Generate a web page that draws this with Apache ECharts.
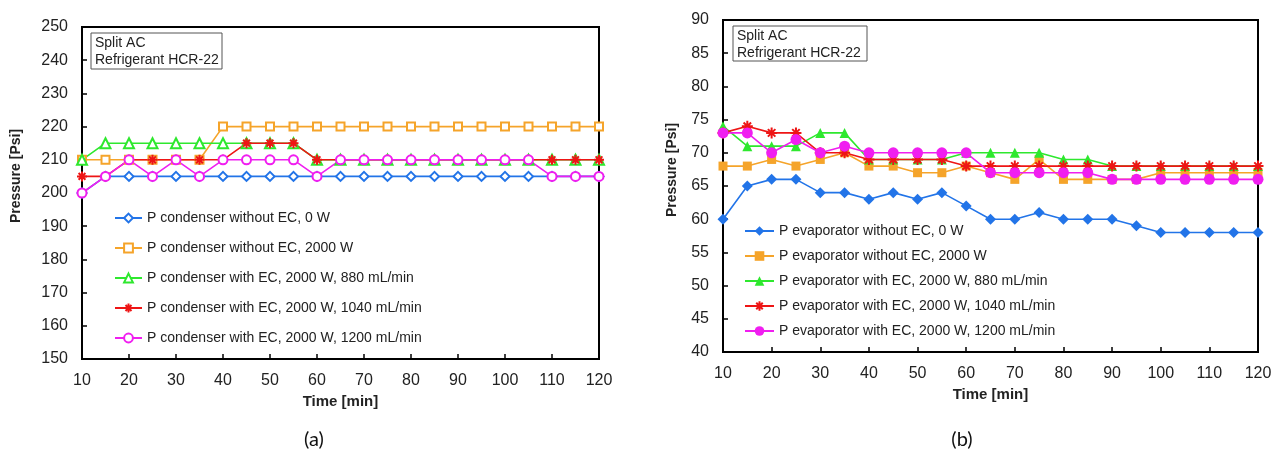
<!DOCTYPE html>
<html><head><meta charset="utf-8">
<script src="https://cdn.jsdelivr.net/npm/echarts@6/dist/echarts.min.js"></script>
<style>html,body{margin:0;padding:0;background:#fff}#c{width:1280px;height:456px}</style>
</head><body><div id="c"></div>
<script>
// ---- data ----
const times = [10,15,20,25,30,35,40,45,50,55,60,65,70,75,80,85,90,95,100,105,110,115,120];

const condNames = [
  'P condenser without EC, 0 W',
  'P condenser without EC, 2000 W',
  'P condenser with EC, 2000 W, 880 mL/min',
  'P condenser with EC, 2000 W, 1040 mL/min',
  'P condenser with EC, 2000 W, 1200 mL/min'
];
const condNoEC0W    = [200,205,205,205,205,205,205,205,205,205,205,205,205,205,205,205,205,205,205,205,205,205,205];
const condNoEC2000W = [210,210,210,210,210,210,220,220,220,220,220,220,220,220,220,220,220,220,220,220,220,220,220];
const condEC880     = [210,215,215,215,215,215,215,215,215,215,210,210,210,210,210,210,210,210,210,210,210,210,210];
const condEC1040    = [205,205,210,210,210,210,210,215,215,215,210,210,210,210,210,210,210,210,210,210,210,210,210];
const condEC1200    = [200,205,210,205,210,205,210,210,210,210,205,210,210,210,210,210,210,210,210,210,205,205,205];

const evapNames = [
  'P evaporator without EC, 0 W',
  'P evaporator without EC, 2000 W',
  'P evaporator with EC, 2000 W, 880 mL/min',
  'P evaporator with EC, 2000 W, 1040 mL/min',
  'P evaporator with EC, 2000 W, 1200 mL/min'
];
const evapNoEC0W    = [60,65,66,66,64,64,63,64,63,64,62,60,60,61,60,60,60,59,58,58,58,58,58];
const evapNoEC2000W = [68,68,69,68,69,70,68,68,67,67,68,67,66,69,66,66,66,66,67,67,67,67,67];
const evapEC880     = [74,71,71,71,73,73,69,69,69,69,70,70,70,70,69,69,68,68,68,68,68,68,68];
const evapEC1040    = [73,74,73,73,70,70,69,69,69,69,68,68,68,68,68,68,68,68,68,68,68,68,68];
const evapEC1200    = [73,73,70,72,70,71,70,70,70,70,70,67,67,67,67,67,66,66,66,66,66,66,66];

const condTicks = {min:150, max:250, step:10};
const evapTicks = {min:40, max:90, step:5};
const xTicks = {min:10, max:120, step:10};

// ---- styling ----
const FF = 'Liberation Sans';
const C = {blue:'#2274e8', orange:'#f5a42a', green:'#2ee82e', red:'#ee1515', mag:'#f01ef0'};
const ASTER = 'path://M0,5L10,5M5,0L5,10M1.6,1.6L8.4,8.4M8.4,1.6L1.6,8.4';

function xAxisCfg(gi){
  return {type:'value', gridIndex:gi, min:xTicks.min, max:xTicks.max, interval:xTicks.step,
    name:'Time [min]', nameLocation:'middle', nameGap:35,
    nameTextStyle:{fontWeight:'bold', fontSize:15, color:'#222', fontFamily:FF},
    axisLine:{show:true, onZero:false, lineStyle:{color:'#000', width:2}},
    axisTick:{show:true, inside:true, length:5, lineStyle:{color:'#000', width:1.5}},
    axisLabel:{fontSize:16, color:'#222', margin:14, fontFamily:FF},
    splitLine:{show:false}};
}
function yAxisCfg(gi, t){
  return {type:'value', gridIndex:gi, min:t.min, max:t.max, interval:t.step,
    axisLine:{show:true, onZero:false, lineStyle:{color:'#000', width:2}},
    axisTick:{show:true, inside:true, length:5, lineStyle:{color:'#000', width:1.5}},
    axisLabel:{fontSize:16, color:'#222', margin:14, fontFamily:FF},
    splitLine:{show:false}};
}
function mk(name, vals, color, symbol, size, gi, bw){
  return {type:'line', name, xAxisIndex:gi, yAxisIndex:gi,
    data: times.map((t,i)=>[t, vals[i]]),
    symbol, symbolSize:size, showAllSymbol:true,
    lineStyle:{color, width:1.6},
    itemStyle:{color, borderColor:color, borderWidth:bw},
    emphasis:{disabled:true}, animation:false};
}

const series = [
  mk(condNames[0], condNoEC0W,    C.blue,   'emptyDiamond', 9, 0, 1.5),
  mk(condNames[1], condNoEC2000W, C.orange, 'emptyRect',    8, 0, 1.5),
  mk(condNames[2], condEC880,     C.green,  'emptyTriangle',10, 0, 1.5),
  mk(condNames[3], condEC1040,    C.red,    ASTER,          10, 0, 2),
  mk(condNames[4], condEC1200,    C.mag,    'emptyCircle',  9, 0, 1.5),
  mk(evapNames[0], evapNoEC0W,    C.blue,   'diamond',      11, 1, 0),
  mk(evapNames[1], evapNoEC2000W, C.orange, 'rect',         9, 1, 0),
  mk(evapNames[2], evapEC880,     C.green,  'triangle',     10, 1, 0),
  mk(evapNames[3], evapEC1040,    C.red,    ASTER,          11, 1, 2),
  mk(evapNames[4], evapEC1200,    C.mag,    'circle',       11, 1, 0)
];

function note(x, y, w, h){
  return {type:'group', children:[
    {type:'rect', shape:{x:x, y:y, width:w, height:h}, style:{fill:'#fff', stroke:'#555', lineWidth:1}},
    {type:'text', x:x+4, y:y+2, style:{text:'Split AC\nRefrigerant HCR-22', font:'14px "Liberation Sans"', fill:'#222', lineHeight:17}}
  ]};
}
function ytitle(x, y){
  return {type:'text', x:x, y:y, rotation:Math.PI/2,
    style:{text:'Pressure [Psi]', font:'bold 14px "Liberation Sans"', fill:'#222',
      align:'center', verticalAlign:'middle', textAlign:'center', textVerticalAlign:'middle'}};
}
function cap(x, y, s){
  return {type:'text', x:x, y:y,
    style:{text:s, font:'20px Lato', fill:'#111',
      align:'center', verticalAlign:'middle', textAlign:'center', textVerticalAlign:'middle'}};
}

const chart = echarts.init(document.getElementById('c'));
chart.setOption({
  animation:false,
  backgroundColor:'#fff',
  grid:[
    {left:82, top:27, width:517, height:332, show:true, borderColor:'#000', borderWidth:2, backgroundColor:'transparent'},
    {left:723, top:20, width:535, height:332, show:true, borderColor:'#000', borderWidth:2, backgroundColor:'transparent'}
  ],
  xAxis:[xAxisCfg(0), xAxisCfg(1)],
  yAxis:[yAxisCfg(0, condTicks), yAxisCfg(1, evapTicks)],
  legend:[
    {data:condNames, orient:'vertical', left:114, top:211, padding:0, itemWidth:27, itemHeight:11, itemGap:16,
     selectedMode:false, textStyle:{fontSize:14, color:'#222', fontFamily:FF}},
    {data:evapNames, orient:'vertical', left:744, top:224, padding:0, itemWidth:29, itemHeight:12, itemGap:11,
     selectedMode:false, textStyle:{fontSize:14, color:'#222', fontFamily:FF}}
  ],
  graphic:[
    note(91, 33, 131, 36),
    note(733, 26, 134, 35),
    ytitle(16, 176),
    ytitle(672, 170),
    cap(314, 440, '(a)'),
    cap(962, 440, '(b)')
  ],
  series
});
</script>
</body></html>
